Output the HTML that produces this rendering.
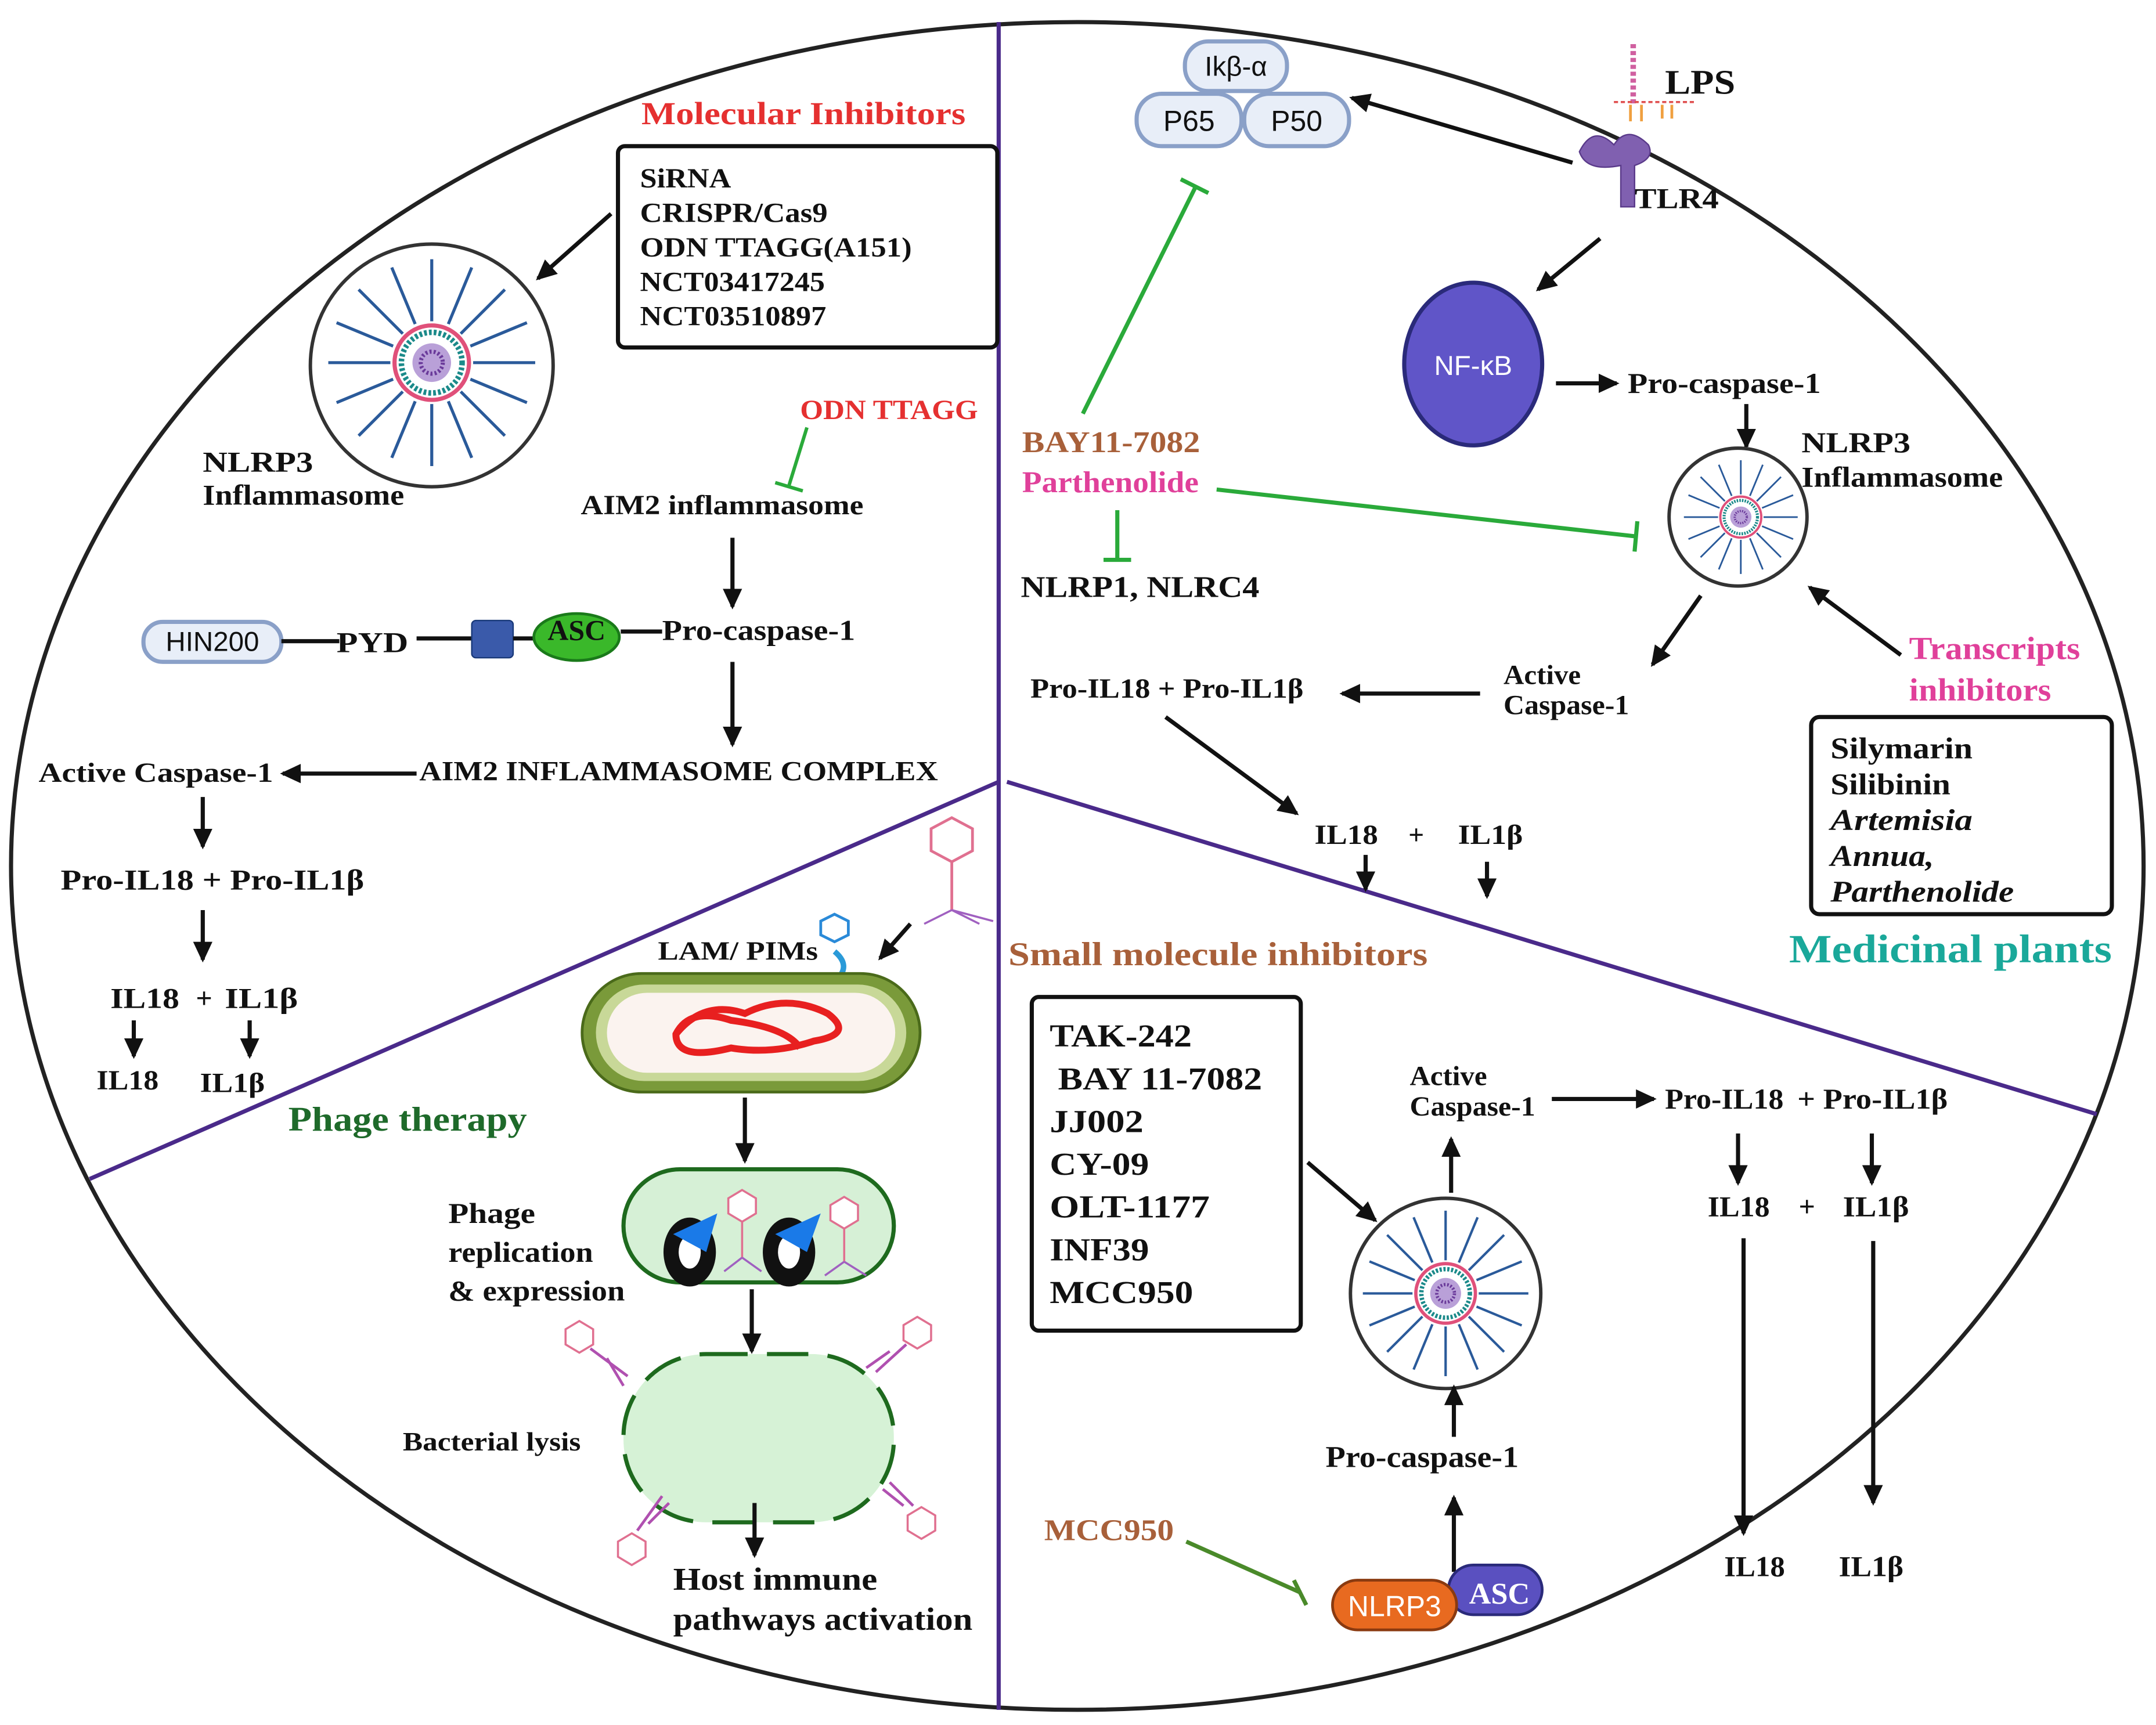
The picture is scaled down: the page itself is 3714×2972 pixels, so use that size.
<!DOCTYPE html>
<html><head><meta charset="utf-8"><style>
html,body{margin:0;padding:0;background:#fff}
svg{display:block}
text{font-family:"Liberation Serif",serif;font-weight:bold;fill:#111}
.s{font-family:"Liberation Sans",sans-serif;font-weight:normal}
</style></head><body>
<svg width="3714" height="2972" viewBox="0 0 1563 1251" preserveAspectRatio="none" xmlns="http://www.w3.org/2000/svg">
<defs>
<marker id="ar" markerWidth="16" markerHeight="14" refX="13" refY="7" orient="auto" markerUnits="userSpaceOnUse"><path d="M0,0 L15,7 L0,14 z" fill="#111"/></marker>
<g id="inf">
 <g stroke="#2a5a9a" stroke-width="2.2">
  <line x1="0" y1="-30" x2="0" y2="-75"/><line x1="0" y1="30" x2="0" y2="75"/>
  <line x1="-30" y1="0" x2="-75" y2="0"/><line x1="30" y1="0" x2="75" y2="0"/>
  <line x1="21" y1="-21" x2="53" y2="-53"/><line x1="-21" y1="21" x2="-53" y2="53"/>
  <line x1="-21" y1="-21" x2="-53" y2="-53"/><line x1="21" y1="21" x2="53" y2="53"/>
  <line x1="12" y1="-28" x2="29" y2="-69"/><line x1="-12" y1="28" x2="-29" y2="69"/>
  <line x1="-28" y1="-12" x2="-69" y2="-29"/><line x1="28" y1="12" x2="69" y2="29"/>
  <line x1="28" y1="-12" x2="69" y2="-29"/><line x1="-28" y1="12" x2="-69" y2="29"/>
  <line x1="-12" y1="-28" x2="-29" y2="-69"/><line x1="12" y1="28" x2="29" y2="69"/>
 </g>
 <circle r="27" fill="none" stroke="#e0507a" stroke-width="3"/>
 <circle r="22" fill="none" stroke="#1b8a8a" stroke-width="4" stroke-dasharray="2 1.5"/>
 <circle r="14" fill="#b9a0d8"/>
 <circle r="8" fill="none" stroke="#6a3a9a" stroke-width="3" stroke-dasharray="1.5 1.5"/>
</g>
</defs>

<ellipse cx="781" cy="628" rx="773" ry="612" fill="#fff" stroke="#222" stroke-width="3"/>
<line x1="724" y1="16" x2="724" y2="1240" stroke="#4a2a8a" stroke-width="3"/>
<line x1="724" y1="567" x2="65" y2="855" stroke="#4a2a8a" stroke-width="3"/>
<line x1="730" y1="567" x2="1520" y2="808" stroke="#4a2a8a" stroke-width="3"/>

<!-- TOP LEFT -->
<text x="465" y="90" style="fill:#e53030" font-size="23" textLength="235" lengthAdjust="spacingAndGlyphs">Molecular  Inhibitors</text>
<rect x="448" y="106" width="275" height="146" rx="5" fill="#fff" stroke="#111" stroke-width="3"/>
<g font-size="20">
<text x="464" y="136" textLength="66" lengthAdjust="spacingAndGlyphs">SiRNA</text>
<text x="464" y="161" textLength="136" lengthAdjust="spacingAndGlyphs">CRISPR/Cas9</text>
<text x="464" y="186" textLength="197" lengthAdjust="spacingAndGlyphs">ODN TTAGG(A151)</text>
<text x="464" y="211" textLength="134" lengthAdjust="spacingAndGlyphs">NCT03417245</text>
<text x="464" y="236" textLength="135" lengthAdjust="spacingAndGlyphs">NCT03510897</text></g>
<line x1="443" y1="155" x2="390" y2="202" stroke="#111" stroke-width="3" marker-end="url(#ar)"/>
<circle cx="313" cy="265" r="88" fill="#fff" stroke="#333" stroke-width="2.5"/>
<use href="#inf" transform="translate(313,263)"/>
<text x="147" y="342" font-size="21" textLength="80" lengthAdjust="spacingAndGlyphs">NLRP3</text>
<text x="147" y="366" font-size="21" textLength="146" lengthAdjust="spacingAndGlyphs">Inflammasome</text>
<text x="580" y="304" font-size="20" style="fill:#e53030" textLength="129" lengthAdjust="spacingAndGlyphs">ODN TTAGG</text>
<line x1="585" y1="310" x2="572" y2="352" stroke="#2aaa3a" stroke-width="2.5"/><line x1="562" y1="350" x2="582" y2="356" stroke="#2aaa3a" stroke-width="2.5"/>
<text x="421" y="373" font-size="20" textLength="205" lengthAdjust="spacingAndGlyphs">AIM2 inflammasome</text>
<line x1="531" y1="390" x2="531" y2="440" stroke="#111" stroke-width="3" marker-end="url(#ar)"/>
<rect x="104" y="451" width="100" height="29" rx="14" fill="#e8eef8" stroke="#8aa0c8" stroke-width="3"/>
<text x="154" y="472" class="s" font-size="20" text-anchor="middle">HIN200</text>
<line x1="204" y1="465" x2="246" y2="465" stroke="#111" stroke-width="3"/>
<text x="244" y="473" font-size="21" textLength="52" lengthAdjust="spacingAndGlyphs">PYD</text>
<line x1="302" y1="463" x2="342" y2="463" stroke="#111" stroke-width="3"/>
<rect x="342" y="450" width="30" height="27" rx="3" fill="#3a5aaa" stroke="#1a3a7a"/>
<line x1="372" y1="463" x2="390" y2="463" stroke="#111" stroke-width="3"/>
<ellipse cx="418" cy="462" rx="31" ry="17" fill="#3ab82a" stroke="#1a7a1a" stroke-width="2"/>
<text x="418" y="464" font-size="21" text-anchor="middle">ASC</text>
<line x1="450" y1="458" x2="480" y2="458" stroke="#111" stroke-width="3"/>
<text x="480" y="464" font-size="21" textLength="140" lengthAdjust="spacingAndGlyphs">Pro-caspase-1</text>
<line x1="531" y1="480" x2="531" y2="540" stroke="#111" stroke-width="3" marker-end="url(#ar)"/>
<text x="304" y="566" font-size="20" textLength="376" lengthAdjust="spacingAndGlyphs">AIM2 INFLAMMASOME COMPLEX</text>
<line x1="302" y1="561" x2="205" y2="561" stroke="#111" stroke-width="3" marker-end="url(#ar)"/>
<text x="28" y="567" font-size="20" textLength="170" lengthAdjust="spacingAndGlyphs">Active Caspase-1</text>
<line x1="147" y1="578" x2="147" y2="614" stroke="#111" stroke-width="3" marker-end="url(#ar)"/>
<text x="44" y="645" font-size="21" textLength="220" lengthAdjust="spacingAndGlyphs">Pro-IL18 + Pro-IL1β</text>
<line x1="147" y1="660" x2="147" y2="696" stroke="#111" stroke-width="3" marker-end="url(#ar)"/>
<text x="80" y="731" font-size="21" textLength="50" lengthAdjust="spacingAndGlyphs">IL18</text>
<text x="142" y="731" font-size="21">+</text>
<text x="163" y="731" font-size="21" textLength="53" lengthAdjust="spacingAndGlyphs">IL1β</text>
<line x1="97" y1="740" x2="97" y2="766" stroke="#111" stroke-width="3" marker-end="url(#ar)"/>
<line x1="181" y1="740" x2="181" y2="766" stroke="#111" stroke-width="3" marker-end="url(#ar)"/>
<text x="70" y="790" font-size="20" textLength="45" lengthAdjust="spacingAndGlyphs">IL18</text>
<text x="145" y="792" font-size="20" textLength="47" lengthAdjust="spacingAndGlyphs">IL1β</text>

<!-- Phage therapy -->
<text x="209" y="820" font-size="25" style="fill:#1e6a2a" textLength="173" lengthAdjust="spacingAndGlyphs">Phage therapy</text>
<text x="477" y="696" font-size="19" textLength="116" lengthAdjust="spacingAndGlyphs">LAM/ PIMs</text>
<g stroke="#e07090" stroke-width="2" fill="#fff"><polygon points="690,593 705,601 705,617 690,625 675,617 675,601"/><line x1="690" y1="625" x2="690" y2="660"/></g>
<g stroke="#a060c0" stroke-width="1.5"><line x1="690" y1="660" x2="670" y2="670"/><line x1="690" y1="660" x2="710" y2="670"/><line x1="690" y1="660" x2="720" y2="668"/></g>
<line x1="660" y1="670" x2="638" y2="695" stroke="#111" stroke-width="3" marker-end="url(#ar)"/>
<g stroke="#2a8ad8" stroke-width="2" fill="#fff"><polygon points="605,663 615,668 615,678 605,683 595,678 595,668"/></g>
<path d="M605,690 q12,10 2,20 q-10,12 8,22" stroke="#2a9ad8" stroke-width="4" fill="none"/>
<rect x="422" y="706" width="245" height="86" rx="43" fill="#7a9a3a" stroke="#4a6a1a" stroke-width="2"/>
<rect x="432" y="714" width="225" height="70" rx="35" fill="#c8d898"/>
<rect x="440" y="720" width="209" height="58" rx="29" fill="#fbf3ef"/>
<path d="M490,750 q20,-25 50,-15 q30,-15 60,0 q20,15 -10,20 q-30,10 -60,5 q-40,10 -40,-10 q10,-20 40,-10 q40,5 50,20" stroke="#e82020" stroke-width="5" fill="none"/>
<line x1="540" y1="796" x2="540" y2="842" stroke="#111" stroke-width="3" marker-end="url(#ar)"/>
<rect x="452" y="848" width="196" height="82" rx="41" fill="#d6f0d6" stroke="#1e6a1e" stroke-width="3"/>
<ellipse cx="500" cy="908" rx="19" ry="25" fill="#111"/><ellipse cx="500" cy="908" rx="8" ry="12" fill="#fff"/>
<ellipse cx="572" cy="908" rx="19" ry="25" fill="#111"/><ellipse cx="572" cy="908" rx="8" ry="12" fill="#fff"/>
<polygon points="488,895 520,880 512,908" fill="#1a7ae8"/><polygon points="562,895 595,880 585,908" fill="#1a7ae8"/>
<g stroke="#e07090" stroke-width="1.5" fill="#fff"><polygon points="538,863 548,869 548,880 538,886 528,880 528,869"/><line x1="538" y1="886" x2="538" y2="912"/><polygon points="612,868 622,874 622,885 612,891 602,885 602,874"/><line x1="612" y1="891" x2="612" y2="915"/></g>
<g stroke="#a060c0" stroke-width="1.5"><line x1="538" y1="912" x2="525" y2="922"/><line x1="538" y1="912" x2="552" y2="922"/><line x1="612" y1="915" x2="598" y2="925"/><line x1="612" y1="915" x2="628" y2="925"/></g>
<text x="325" y="887" font-size="21" textLength="63" lengthAdjust="spacingAndGlyphs">Phage</text>
<text x="325" y="915" font-size="21" textLength="105" lengthAdjust="spacingAndGlyphs">replication</text>
<text x="325" y="943" font-size="21" textLength="128" lengthAdjust="spacingAndGlyphs">&amp; expression</text>
<line x1="545" y1="935" x2="545" y2="980" stroke="#111" stroke-width="3" marker-end="url(#ar)"/>
<rect x="452" y="982" width="196" height="122" rx="60" fill="#d6f2d6" stroke="#1e6a1e" stroke-width="3" stroke-dasharray="30 14"/>
<g stroke="#e07090" stroke-width="1.5" fill="#fff">
<polygon points="420,958 430,964 430,975 420,981 410,975 410,964"/>
<polygon points="665,955 675,961 675,972 665,978 655,972 655,961"/>
<polygon points="458,1112 468,1118 468,1129 458,1135 448,1129 448,1118"/>
<polygon points="668,1093 678,1099 678,1110 668,1116 658,1110 658,1099"/></g>
<g stroke="#b050b0" stroke-width="2"><line x1="428" y1="978" x2="455" y2="998"/><line x1="440" y1="985" x2="452" y2="1005"/><line x1="657" y1="975" x2="635" y2="995"/><line x1="645" y1="980" x2="628" y2="992"/><line x1="462" y1="1110" x2="480" y2="1085"/><line x1="470" y1="1105" x2="485" y2="1090"/><line x1="662" y1="1092" x2="645" y2="1075"/><line x1="655" y1="1092" x2="640" y2="1080"/></g>
<text x="292" y="1052" font-size="19" textLength="129" lengthAdjust="spacingAndGlyphs">Bacterial lysis</text>
<line x1="547" y1="1090" x2="547" y2="1128" stroke="#111" stroke-width="3" marker-end="url(#ar)"/>
<text x="488" y="1153" font-size="23" textLength="148" lengthAdjust="spacingAndGlyphs">Host immune</text>
<text x="488" y="1182" font-size="23" textLength="217" lengthAdjust="spacingAndGlyphs">pathways activation</text>

<!-- TOP RIGHT -->
<rect x="859" y="30" width="74" height="36" rx="17" fill="#e8eef8" stroke="#8aa0c8" stroke-width="3"/>
<text x="896" y="55" class="s" font-size="20" text-anchor="middle">Ikβ-α</text>
<rect x="824" y="68" width="76" height="38" rx="18" fill="#e8eef8" stroke="#8aa0c8" stroke-width="3"/>
<text x="862" y="95" class="s" font-size="21" text-anchor="middle">P65</text>
<rect x="902" y="68" width="76" height="38" rx="18" fill="#e8eef8" stroke="#8aa0c8" stroke-width="3"/>
<text x="940" y="95" class="s" font-size="21" text-anchor="middle">P50</text>
<line x1="1184" y1="32" x2="1184" y2="75" stroke="#d060a0" stroke-width="4" stroke-dasharray="3 2"/>
<line x1="1170" y1="74" x2="1228" y2="74" stroke="#e05050" stroke-width="1.5" stroke-dasharray="3 2"/>
<g stroke="#f0a040" stroke-width="2"><line x1="1182" y1="76" x2="1182" y2="88"/><line x1="1190" y1="76" x2="1190" y2="88"/><line x1="1205" y1="76" x2="1205" y2="86"/><line x1="1212" y1="76" x2="1212" y2="86"/></g>
<text x="1207" y="68" font-size="25" textLength="51" lengthAdjust="spacingAndGlyphs">LPS</text>
<path d="M1145,110 q10,-20 25,-5 q10,-15 25,0 q5,10 -10,15 l0,30 l-10,0 l0,-30 q-25,5 -30,-10z" fill="#8060b0" stroke="#5a3a8a"/>
<text x="1185" y="151" font-size="21" textLength="61" lengthAdjust="spacingAndGlyphs">TLR4</text>
<line x1="1140" y1="118" x2="980" y2="71" stroke="#111" stroke-width="3" marker-end="url(#ar)"/>
<line x1="1160" y1="173" x2="1115" y2="210" stroke="#111" stroke-width="3" marker-end="url(#ar)"/>
<ellipse cx="1068" cy="264" rx="50" ry="59" fill="#6055c8" stroke="#2a2a7a" stroke-width="3"/>
<text x="1068" y="272" class="s" font-size="20" text-anchor="middle" style="fill:#fff">NF-κB</text>
<line x1="1128" y1="278" x2="1172" y2="278" stroke="#111" stroke-width="3" marker-end="url(#ar)"/>
<text x="1180" y="285" font-size="21" textLength="140" lengthAdjust="spacingAndGlyphs">Pro-caspase-1</text>
<line x1="1266" y1="293" x2="1266" y2="324" stroke="#111" stroke-width="3" marker-end="url(#ar)"/>
<circle cx="1260" cy="375" r="50" fill="#fff" stroke="#333" stroke-width="2.5"/>
<use href="#inf" transform="translate(1262,375) scale(0.55)"/>
<text x="1306" y="328" font-size="21" textLength="79" lengthAdjust="spacingAndGlyphs">NLRP3</text>
<text x="1306" y="353" font-size="21" textLength="146" lengthAdjust="spacingAndGlyphs">Inflammasome</text>
<text x="741" y="328" font-size="22" style="fill:#a8603a" textLength="129" lengthAdjust="spacingAndGlyphs">BAY11-7082</text>
<text x="741" y="357" font-size="22" style="fill:#e0409a" textLength="128" lengthAdjust="spacingAndGlyphs">Parthenolide</text>
<line x1="785" y1="300" x2="867" y2="135" stroke="#2aaa3a" stroke-width="3"/><line x1="856" y1="130" x2="876" y2="140" stroke="#2aaa3a" stroke-width="3"/>
<line x1="882" y1="355" x2="1186" y2="389" stroke="#2aaa3a" stroke-width="3"/><line x1="1187" y1="378" x2="1185" y2="400" stroke="#2aaa3a" stroke-width="3"/>
<line x1="810" y1="370" x2="810" y2="406" stroke="#2aaa3a" stroke-width="3"/><line x1="800" y1="406" x2="820" y2="406" stroke="#2aaa3a" stroke-width="3"/>
<text x="740" y="433" font-size="22" textLength="173" lengthAdjust="spacingAndGlyphs">NLRP1, NLRC4</text>
<line x1="1233" y1="432" x2="1198" y2="482" stroke="#111" stroke-width="3" marker-end="url(#ar)"/>
<line x1="1378" y1="475" x2="1312" y2="426" stroke="#111" stroke-width="3" marker-end="url(#ar)"/>
<text x="1384" y="478" font-size="23" style="fill:#e0409a" textLength="124" lengthAdjust="spacingAndGlyphs">Transcripts</text>
<text x="1384" y="508" font-size="23" style="fill:#e0409a" textLength="103" lengthAdjust="spacingAndGlyphs">inhibitors</text>
<text x="1090" y="496" font-size="20" textLength="56" lengthAdjust="spacingAndGlyphs">Active</text>
<text x="1090" y="518" font-size="20" textLength="91" lengthAdjust="spacingAndGlyphs">Caspase-1</text>
<line x1="1073" y1="503" x2="973" y2="503" stroke="#111" stroke-width="3" marker-end="url(#ar)"/>
<text x="747" y="506" font-size="20" textLength="198" lengthAdjust="spacingAndGlyphs">Pro-IL18 + Pro-IL1β</text>
<line x1="845" y1="520" x2="940" y2="590" stroke="#111" stroke-width="3" marker-end="url(#ar)"/>
<text x="953" y="612" font-size="20" textLength="46" lengthAdjust="spacingAndGlyphs">IL18</text>
<text x="1021" y="612" font-size="20">+</text>
<text x="1057" y="612" font-size="20" textLength="47" lengthAdjust="spacingAndGlyphs">IL1β</text>
<line x1="990" y1="620" x2="990" y2="645" stroke="#111" stroke-width="3" marker-end="url(#ar)"/>
<line x1="1078" y1="625" x2="1078" y2="650" stroke="#111" stroke-width="3" marker-end="url(#ar)"/>
<rect x="1313" y="520" width="218" height="143" rx="6" fill="#fff" stroke="#111" stroke-width="3"/>
<g font-size="22">
<text x="1327" y="550" textLength="103" lengthAdjust="spacingAndGlyphs">Silymarin</text>
<text x="1327" y="576" textLength="87" lengthAdjust="spacingAndGlyphs">Silibinin</text>
<text x="1327" y="602" font-style="italic" textLength="103" lengthAdjust="spacingAndGlyphs">Artemisia</text>
<text x="1327" y="628" font-style="italic" textLength="75" lengthAdjust="spacingAndGlyphs">Annua,</text>
<text x="1327" y="654" font-style="italic" textLength="133" lengthAdjust="spacingAndGlyphs">Parthenolide</text></g>
<text x="1297" y="698" font-size="29" style="fill:#1aa89a" textLength="234" lengthAdjust="spacingAndGlyphs">Medicinal plants</text>

<!-- BOTTOM RIGHT -->
<text x="731" y="700" font-size="24" style="fill:#a8603a" textLength="304" lengthAdjust="spacingAndGlyphs">Small molecule inhibitors</text>
<rect x="748" y="723" width="195" height="242" rx="5" fill="#fff" stroke="#111" stroke-width="3"/>
<g font-size="23">
<text x="761" y="759" textLength="103" lengthAdjust="spacingAndGlyphs">TAK-242</text>
<text x="767" y="790" textLength="148" lengthAdjust="spacingAndGlyphs">BAY 11-7082</text>
<text x="761" y="821" textLength="68" lengthAdjust="spacingAndGlyphs">JJ002</text>
<text x="761" y="852" textLength="72" lengthAdjust="spacingAndGlyphs">CY-09</text>
<text x="761" y="883" textLength="116" lengthAdjust="spacingAndGlyphs">OLT-1177</text>
<text x="761" y="914" textLength="72" lengthAdjust="spacingAndGlyphs">INF39</text>
<text x="761" y="945" textLength="104" lengthAdjust="spacingAndGlyphs">MCC950</text></g>
<line x1="948" y1="843" x2="997" y2="885" stroke="#111" stroke-width="3" marker-end="url(#ar)"/>
<circle cx="1048" cy="938" r="69" fill="#fff" stroke="#333" stroke-width="2.5"/>
<use href="#inf" transform="translate(1048,938) scale(0.8)"/>
<line x1="1052" y1="865" x2="1052" y2="826" stroke="#111" stroke-width="3" marker-end="url(#ar)"/>
<text x="1022" y="787" font-size="20" textLength="56" lengthAdjust="spacingAndGlyphs">Active</text>
<text x="1022" y="809" font-size="20" textLength="91" lengthAdjust="spacingAndGlyphs">Caspase-1</text>
<line x1="1125" y1="797" x2="1199" y2="797" stroke="#111" stroke-width="3" marker-end="url(#ar)"/>
<text x="1207" y="804" font-size="21" textLength="86" lengthAdjust="spacingAndGlyphs">Pro-IL18</text>
<text x="1303" y="804" font-size="21" textLength="109" lengthAdjust="spacingAndGlyphs">+ Pro-IL1β</text>
<line x1="1260" y1="822" x2="1260" y2="858" stroke="#111" stroke-width="3" marker-end="url(#ar)"/>
<line x1="1357" y1="822" x2="1357" y2="858" stroke="#111" stroke-width="3" marker-end="url(#ar)"/>
<text x="1238" y="882" font-size="21" textLength="45" lengthAdjust="spacingAndGlyphs">IL18</text>
<text x="1304" y="882" font-size="21">+</text>
<text x="1336" y="882" font-size="21" textLength="48" lengthAdjust="spacingAndGlyphs">IL1β</text>
<line x1="1264" y1="898" x2="1264" y2="1112" stroke="#111" stroke-width="3" marker-end="url(#ar)"/>
<line x1="1358" y1="900" x2="1358" y2="1090" stroke="#111" stroke-width="3" marker-end="url(#ar)"/>
<text x="1250" y="1143" font-size="21" textLength="44" lengthAdjust="spacingAndGlyphs">IL18</text>
<text x="1333" y="1143" font-size="21" textLength="47" lengthAdjust="spacingAndGlyphs">IL1β</text>
<line x1="1054" y1="1042" x2="1054" y2="1006" stroke="#111" stroke-width="3" marker-end="url(#ar)"/>
<text x="961" y="1064" font-size="22" textLength="140" lengthAdjust="spacingAndGlyphs">Pro-caspase-1</text>
<line x1="1054" y1="1140" x2="1054" y2="1086" stroke="#111" stroke-width="3" marker-end="url(#ar)"/>
<text x="757" y="1117" font-size="22" style="fill:#a8603a" textLength="94" lengthAdjust="spacingAndGlyphs">MCC950</text>
<line x1="860" y1="1118" x2="943" y2="1155" stroke="#4a8a2a" stroke-width="3"/><line x1="938" y1="1146" x2="947" y2="1164" stroke="#4a8a2a" stroke-width="3"/>
<rect x="1050" y="1135" width="68" height="36" rx="18" fill="#5a50c0" stroke="#2a2a7a" stroke-width="2"/>
<rect x="966" y="1146" width="90" height="36" rx="18" fill="#e86a20" stroke="#8a3a10" stroke-width="2"/>
<text x="1011" y="1172" class="s" font-size="21" text-anchor="middle" style="fill:#fff">NLRP3</text>
<text x="1087" y="1163" font-size="22" text-anchor="middle" style="fill:#fff">ASC</text>
</svg>
</body></html>
